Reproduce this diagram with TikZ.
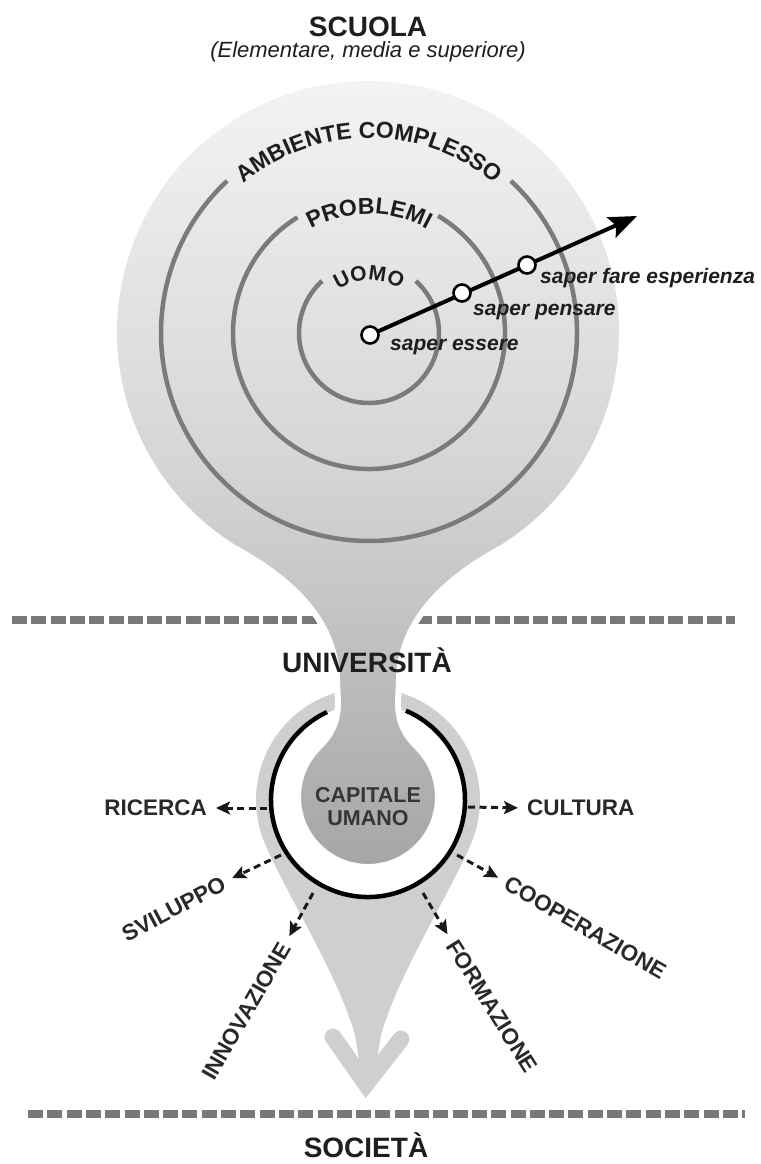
\documentclass[tikz,border=0pt]{standalone}
\usepackage{fontspec}
\setmainfont{Liberation Sans}
\usetikzlibrary{arrows.meta,decorations.text,calc}
\definecolor{ringgray}{RGB}{123,123,125}
\definecolor{dashgray}{RGB}{120,120,122}
\definecolor{topc}{RGB}{246,246,247}
\definecolor{midc}{RGB}{214,214,216}
\definecolor{botc}{RGB}{165,165,167}
\definecolor{lightg}{RGB}{207,207,208}
\definecolor{txt}{RGB}{30,30,30}
\newcommand\arcfontA{\fontsize{23}{25}\selectfont\bfseries\color{txt}}
\newcommand\arcfontB{\fontsize{21}{23}\selectfont\bfseries\color{txt}}
\begin{document}
\begin{tikzpicture}[x=1pt,y=1pt,
  ringline/.style={draw=ringgray, line width=4.5pt},
  sepline/.style={draw=dashgray, line width=7.5pt, dash pattern=on 15pt off 4.3pt},
  title/.style={font=\fontsize{28}{30}\selectfont\bfseries, text=txt, inner sep=0pt, anchor=base},
  lab/.style={font=\fontsize{22.5}{25}\selectfont\bfseries, text=txt!95, inner sep=0pt},
  knot/.style={circle, draw=black, fill=white, line width=2.6pt, minimum size=17pt, inner sep=0pt},
  saper/.style={font=\fontsize{21}{23}\selectfont\bfseries\itshape, text=txt, inner sep=0pt, anchor=west},
  flow/.style={draw=black!90, line width=3pt, dash pattern=on 7pt off 4.5pt, -{Stealth[length=14pt,width=13pt,inset=3pt]}, shorten >=9pt},
]
\useasboundingbox (0,0) rectangle (760,-1164);

% separators
\coordinate (s1a) at (12,-620); \coordinate (s1b) at (735,-620);
\coordinate (s2a) at (28,-1114); \coordinate (s2b) at (745,-1114);
\draw[sepline] (s1a) -- (s1b);
\draw[sepline] (s2a) -- (s2b);

% light grey teardrop arrow
\fill[lightg] (469.8,-846.6) arc[start angle=-24.6, end angle=204.6, radius=112]
  .. controls (290,-900) and (338,-975) .. (355,-1035) -- (362,-1078) -- (374,-1078) -- (381,-1035)
  .. controls (398,-975) and (446,-900) .. (469.8,-846.6) -- cycle;
\draw[lightg, line width=17pt, line cap=round, line join=miter] (333,-1037) -- (366,-1084) -- (401,-1039);

% white inside of the ring
\fill[white] (368,-800) circle[radius=96];

% main body: school circle, neck, human capital
\shade[top color=topc, bottom color=botc, middle color=midc, draw=white, line width=6pt]
  (502.6,-547.4) arc[start angle=-58, end angle=238, radius=254]
  .. controls (273,-569) and (336,-610) .. (337,-680)
  -- (338,-702)
  .. controls (338,-725) and (329,-737) .. (318.5,-747.5)
  arc[start angle=135, end angle=405, radius=70]
  .. controls (407,-737) and (398,-725) .. (398,-702)
  -- (399,-680)
  .. controls (400,-610) and (463,-569) .. (502.6,-547.4) -- cycle;

% black ring
\draw[black, line width=4.5pt] (327,-712.1) arc[start angle=115, end angle=427, radius=97];

% concentric rings
\coordinate (R0) at (369,-333);
\draw[ringline] ($(R0)+(132:70)$) arc[start angle=132, end angle=408, radius=70];
\draw[ringline] ($(R0)+(121.7:136)$) arc[start angle=121.7, end angle=419.5, radius=136];
\draw[ringline] ($(R0)+(133:208)$) arc[start angle=133, end angle=407, radius=208];

% texts along the rings
\path[decorate, decoration={text along path, text align=center, text={|\arcfontA|AMBIENTE COMPLESSO}}]
  ($(R0)+(150:195)$) arc[start angle=150, end angle=30, radius=195];
\path[decorate, decoration={text along path, text align=center, text={|\arcfontA|PROBLEMI}}]
  ($(R0)+(160:119)$) arc[start angle=160, end angle=20, radius=119];
\path[decorate, decoration={text along path, text align=center, text={|\arcfontB|UOMO}}]
  ($(R0)+(170:53)$) arc[start angle=170, end angle=10, radius=53];

% saper arrow
\coordinate (c1) at (370,-335);
\coordinate (c2) at (462,-293);
\coordinate (c3) at (527,-265);
\coordinate (ktip) at (637,-216);
\draw[black, line width=4pt, -{Stealth[length=28pt,width=22pt,inset=5pt]}] (c1) -- (ktip);
\node[knot] (k1) at (c1) {};
\node[knot] (k2) at (c2) {};
\node[knot] (k3) at (c3) {};
\node[saper] (t1) at (390,-347) {saper essere};
\node[saper] (t2) at (473,-312) {saper pensare};
\node[saper] (t3) at (540,-278) {saper fare esperienza};

% titles
\node[title] (scuola) at (368,-37) {SCUOLA};
\node[font=\fontsize{22}{24}\selectfont\itshape, text=txt, inner sep=0pt, anchor=base] (sub) at (368,-58) {(Elementare, media e superiore)};
\node[title] (univ) at (367,-672) {UNIVERSITÀ};
\node[title] (soc) at (366,-1157) {SOCIETÀ};

% capitale umano
\node[lab, font=\fontsize{21.5}{23}\selectfont\bfseries, text=txt!90, align=center] (cap) at (368,-807) {CAPITALE\\UMANO};

% outputs
\node[lab, anchor=east] (ric) at (207,-808) {RICERCA};
\node[lab, anchor=west] (cul) at (527,-808) {CULTURA};
\node[lab, anchor=east, rotate=28] (svi) at (224,-882) {SVILUPPO};
\node[lab, anchor=west, rotate=-30] (coo) at (506,-882) {COOPERAZIONE};
\node[lab, anchor=east, rotate=60] (inn) at (285,-944) {INNOVAZIONE};
\node[lab, anchor=west, rotate=-58] (for) at (452,-942) {FORMAZIONE};

\coordinate (a1) at (267,-808);
\coordinate (a2) at (468,-807);
\coordinate (a3) at (281,-855);
\coordinate (a4) at (457,-855);
\coordinate (a5) at (313,-893);
\coordinate (a6) at (423,-893);
\draw[flow] (a1) -- (ric.east);
\draw[flow] (a2) -- (cul.west);
\draw[flow] (a3) -- (svi.east);
\draw[flow] (a4) -- (coo.west);
\draw[flow] (a5) -- (inn.east);
\draw[flow] (a6) -- (for.west);
\end{tikzpicture}
\end{document}
